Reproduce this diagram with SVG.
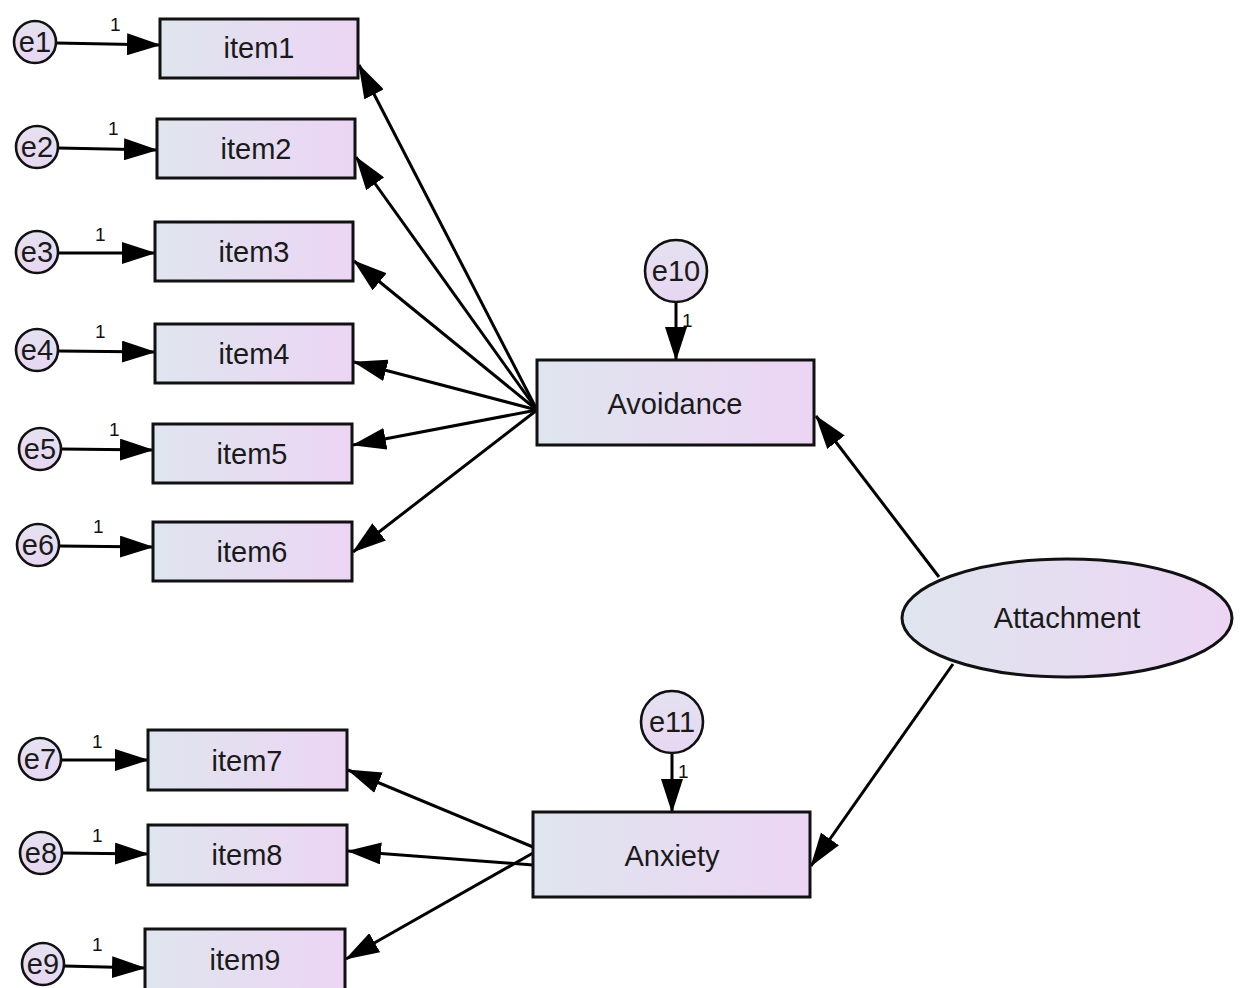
<svg xmlns="http://www.w3.org/2000/svg" width="1243" height="988" viewBox="0 0 1243 988">
  <defs>
    <linearGradient id="fillGrad" x1="0" y1="0" x2="1" y2="0">
      <stop offset="0" stop-color="#dfe5ee"/>
      <stop offset="1" stop-color="#ecd5f4"/>
    </linearGradient>
    <linearGradient id="errGrad" x1="0" y1="0" x2="0" y2="1">
      <stop offset="0" stop-color="#e4e2f0"/>
      <stop offset="1" stop-color="#e8d6f2"/>
    </linearGradient>
    <marker id="arrow" viewBox="0 0 34 22" refX="33" refY="11" markerWidth="34" markerHeight="22" markerUnits="userSpaceOnUse" orient="auto">
      <path d="M0,0 L34,11 L0,22 z" fill="#000"/>
    </marker>
    <style>
      .box { fill: url(#fillGrad); stroke: #111; stroke-width: 3; }
      .err { fill: url(#errGrad); stroke: #111; stroke-width: 2.6; }
      .lbl { font-family: "Liberation Sans", Arial, sans-serif; font-size: 29px; fill: #1a1a1a; text-anchor: middle; }
      .elbl { font-family: "Liberation Sans", Arial, sans-serif; font-size: 29px; fill: #1a1a1a; text-anchor: middle; }
      .one { font-family: "Liberation Sans", Arial, sans-serif; font-size: 19px; fill: #111; }
      .conn line { stroke: #000; stroke-width: 3; marker-end: url(#arrow); }
    </style>
  </defs>
  <rect width="1243" height="988" fill="#fff"/>

  <!-- connectors -->
  <g id="connectors" class="conn">
    <!-- error terms to indicators -->
    <line x1="56" y1="43" x2="160" y2="45"/>
    <line x1="58" y1="148" x2="157" y2="150"/>
    <line x1="58" y1="253" x2="155" y2="253"/>
    <line x1="58" y1="351" x2="155" y2="352"/>
    <line x1="61" y1="449" x2="153" y2="450"/>
    <line x1="59" y1="546" x2="153" y2="547"/>
    <line x1="61" y1="760" x2="148" y2="760"/>
    <line x1="62" y1="853" x2="148" y2="854"/>
    <line x1="64" y1="966" x2="145" y2="968"/>
    <!-- disturbances -->
    <line x1="676" y1="302" x2="676" y2="360"/>
    <line x1="672" y1="753" x2="672" y2="812"/>
    <!-- Avoidance to items -->
    <line x1="537" y1="410" x2="359" y2="65"/>
    <line x1="537" y1="410" x2="356" y2="157"/>
    <line x1="537" y1="410" x2="354" y2="261"/>
    <line x1="537" y1="410" x2="354" y2="362"/>
    <line x1="537" y1="410" x2="353" y2="445"/>
    <line x1="537" y1="410" x2="353" y2="552"/>
    <!-- Anxiety to items -->
    <line x1="533" y1="847" x2="348" y2="770"/>
    <line x1="533" y1="865" x2="348" y2="851"/>
    <line x1="533" y1="853" x2="346" y2="959"/>
    <!-- Attachment to factors -->
    <line x1="939" y1="577" x2="816" y2="416"/>
    <line x1="953" y1="664" x2="811" y2="866"/>
  </g>

  <!-- loading labels fixed at 1 -->
  <g id="weights">
    <text class="one" x="110" y="31">1</text>
    <text class="one" x="108" y="135">1</text>
    <text class="one" x="95" y="241">1</text>
    <text class="one" x="95" y="338">1</text>
    <text class="one" x="109" y="436">1</text>
    <text class="one" x="93" y="533">1</text>
    <text class="one" x="92" y="748">1</text>
    <text class="one" x="92" y="842">1</text>
    <text class="one" x="92" y="951">1</text>
    <text class="one" x="682" y="327">1</text>
    <text class="one" x="678" y="778">1</text>
  </g>

  <!-- error terms -->
  <g id="e1"><circle class="err" cx="35" cy="42" r="21"/><text class="elbl" x="35" y="52">e1</text></g>
  <g id="e2"><circle class="err" cx="37" cy="147" r="21"/><text class="elbl" x="37" y="157">e2</text></g>
  <g id="e3"><circle class="err" cx="37" cy="252" r="21"/><text class="elbl" x="37" y="262">e3</text></g>
  <g id="e4"><circle class="err" cx="37" cy="350" r="21"/><text class="elbl" x="37" y="360">e4</text></g>
  <g id="e5"><circle class="err" cx="40" cy="449" r="21"/><text class="elbl" x="40" y="459">e5</text></g>
  <g id="e6"><circle class="err" cx="38" cy="545" r="21"/><text class="elbl" x="38" y="555">e6</text></g>
  <g id="e7"><circle class="err" cx="40" cy="759" r="21"/><text class="elbl" x="40" y="769">e7</text></g>
  <g id="e8"><circle class="err" cx="41" cy="853" r="21"/><text class="elbl" x="41" y="863">e8</text></g>
  <g id="e9"><circle class="err" cx="43" cy="964" r="21"/><text class="elbl" x="43" y="974">e9</text></g>
  <g id="e10"><circle class="err" cx="676" cy="271" r="31"/><text class="elbl" x="676" y="281">e10</text></g>
  <g id="e11"><circle class="err" cx="672" cy="722" r="31"/><text class="elbl" x="672" y="732">e11</text></g>

  <!-- observed indicators -->
  <g id="item1"><rect class="box" x="160" y="19" width="198" height="59"/><text class="lbl" x="259" y="58">item1</text></g>
  <g id="item2"><rect class="box" x="157" y="119" width="198" height="59"/><text class="lbl" x="256" y="159">item2</text></g>
  <g id="item3"><rect class="box" x="155" y="222" width="198" height="59"/><text class="lbl" x="254" y="262">item3</text></g>
  <g id="item4"><rect class="box" x="155" y="324" width="198" height="59"/><text class="lbl" x="254" y="364">item4</text></g>
  <g id="item5"><rect class="box" x="153" y="424" width="199" height="59"/><text class="lbl" x="252" y="464">item5</text></g>
  <g id="item6"><rect class="box" x="153" y="522" width="199" height="59"/><text class="lbl" x="252" y="562">item6</text></g>
  <g id="item7"><rect class="box" x="148" y="730" width="199" height="60"/><text class="lbl" x="247" y="771">item7</text></g>
  <g id="item8"><rect class="box" x="148" y="825" width="199" height="60"/><text class="lbl" x="247" y="865">item8</text></g>
  <g id="item9"><rect class="box" x="145" y="929" width="200" height="62"/><text class="lbl" x="245" y="970">item9</text></g>

  <!-- first-order factors -->
  <g id="Avoidance"><rect class="box" x="537" y="360" width="277" height="85"/><text class="lbl" x="675" y="414">Avoidance</text></g>
  <g id="Anxiety"><rect class="box" x="533" y="812" width="277" height="85"/><text class="lbl" x="672" y="866">Anxiety</text></g>

  <!-- second-order factor -->
  <g id="Attachment"><ellipse class="box" cx="1067" cy="618" rx="165" ry="59"/><text class="lbl" x="1067" y="628">Attachment</text></g>
</svg>
